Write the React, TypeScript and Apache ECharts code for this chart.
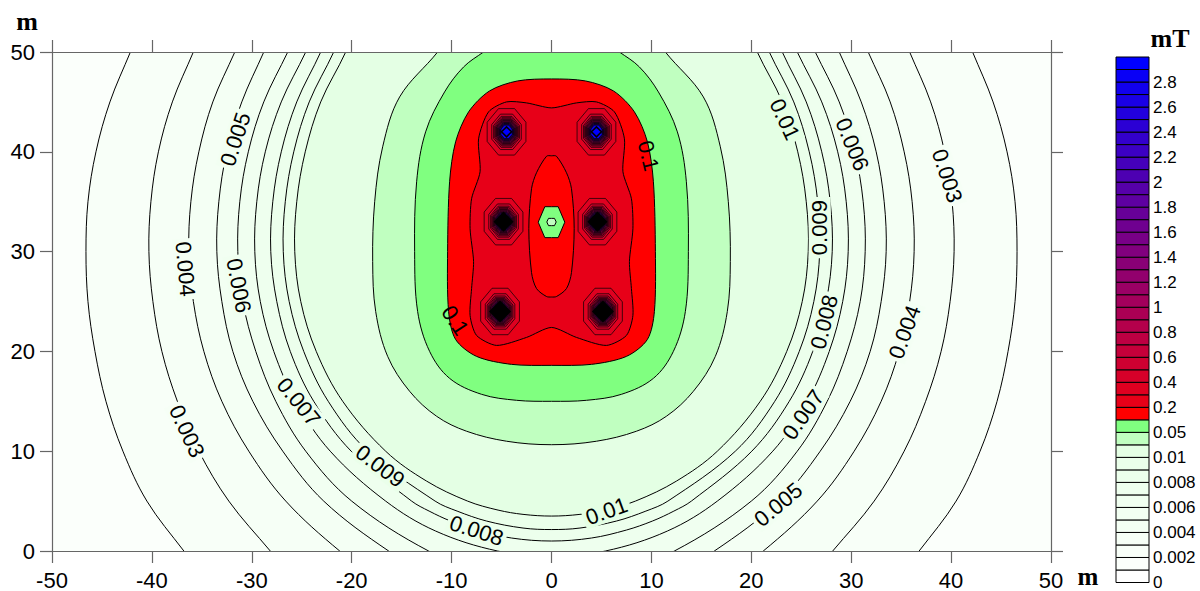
import React, { useEffect, useRef } from 'react';
import * as echarts from 'echarts';

// Contour levels (colour scale), mT
const LEVELS = [0, 0.001, 0.002, 0.003, 0.004, 0.005, 0.006, 0.007, 0.008, 0.009, 0.01, 0.02, 0.05, 0.1,
  0.2, 0.3, 0.4, 0.5, 0.6, 0.7, 0.8, 0.9, 1, 1.1, 1.2, 1.3, 1.4, 1.5, 1.6, 1.7, 1.8, 1.9, 2,
  2.1, 2.2, 2.3, 2.4, 2.5, 2.6, 2.7, 2.8, 2.9, 3];

// Right halves of the contour lines [x (m), y (m)]; the field is symmetric about x = 0
const C_0002 = [[40.9, 53], [42.15, 50], [44.2, 45], [45.6, 40], [46.4, 35], [46.6, 30], [46.4, 25], [45.7, 20], [44.6, 15], [42.9, 10], [40.5, 5], [36.8, 0], [34.4, -3]];
const C_0003 = [[34.6, 53], [35.85, 50], [37.95, 45], [39.35, 40], [40.1, 35], [40.3, 30], [39.9, 25], [39.0, 20], [37.45, 15], [35.3, 10], [32.3, 5], [28.15, 0], [25.6, -3]];
const C_0004 = [[30.4, 53], [31.7, 50], [33.9, 45], [35.3, 40], [36.1, 35], [36.3, 30], [35.85, 25], [34.8, 20], [33.0, 15], [30.3, 10], [26.6, 5], [21.2, 0], [17.0, -3]];
const C_0005 = [[27.5, 53], [28.8, 50], [31.0, 45], [32.5, 40], [33.3, 35], [33.5, 30], [33.0, 25], [31.9, 20], [29.9, 15], [26.9, 10], [22.8, 5], [16.3, 0], [11.0, -3]];
const C_0006 = [[25.0, 53], [26.4, 50], [28.8, 45], [30.35, 40], [31.2, 35], [31.4, 30], [30.9, 25], [29.6, 20], [27.6, 15], [24.6, 10], [20.0, 5], [12.3, 0], [6.0, -2.4], [0, -3.2]];
const C_0007 = [[23.3, 53], [24.6, 50], [27.05, 45], [28.65, 40], [29.5, 35], [29.7, 30], [29.15, 25], [27.8, 20], [25.6, 15], [22.15, 10], [16.6, 5], [11.6, 2], [5.4, 0], [0, -0.5]];
const C_0008 = [[21.9, 53], [23.1, 50], [25.5, 45], [27.05, 40], [27.9, 35], [28.1, 30], [27.5, 25], [26.15, 20], [23.8, 15], [20.05, 10], [14.0, 5], [12.25, 4], [10.1, 3], [7.5, 2.1], [4.0, 1.3], [0, 1.0]];
const C_0009 = [[20.6, 53], [21.8, 50], [24.25, 45], [25.8, 40], [26.65, 35], [26.85, 30], [26.26, 25], [24.8, 20], [22.35, 15], [18.4, 10], [11.65, 5], [9.45, 4], [6.5, 3], [2.85, 2.3], [0, 2.15]];
const C_0010 = [[19.5, 53], [20.6, 50], [23.1, 45], [24.65, 40], [25.5, 35], [25.7, 30], [25.1, 25], [23.55, 20], [20.9, 15], [16.6, 10], [12.5, 7], [8.4, 5], [5.35, 4.1], [2.85, 3.67], [0, 3.5]];
const C_002 = [[9.3, 53], [11.4, 50], [15.2, 45.5], [16.9, 40.5], [17.7, 35], [17.9, 29], [17.6, 24], [16.4, 19.5], [14.2, 16], [11.5, 13.5], [8.5, 12], [4.5, 11], [0, 10.65]];
const C_005 = [[3.5, 52.3], [6.8, 50], [8.8, 48.5], [10.7, 46], [12.6, 42], [13.5, 37], [13.7, 30], [13.4, 24], [12.2, 20], [10.2, 17.3], [7, 15.7], [3.5, 15.1], [0, 15]];
const C_01 = [[0, 47.3], [3.4, 47.1], [6.2, 46.1], [8.3, 44], [9.6, 41], [10.2, 37], [10.4, 30], [10.3, 24], [9.6, 21.2], [7.5, 19.5], [4, 18.7], [0, 18.6]];
const C_02 = [[0, 44.4], [2.5, 44.9], [4.5, 45], [6.3, 44], [7.3, 41.3], [7.15, 38], [8.0, 35.3], [8.15, 32.3], [7.8, 29], [8.0, 26.3], [8.15, 23.6], [7.5, 21.6], [5.5, 20.6], [2.5, 21.4], [0, 22.4]];
const LENS = [[0, 39.6], [0.5, 39.55], [1.5, 37.9], [2.0, 36.3], [2.27, 32.3], [2.0, 27.9], [1.5, 26.3], [0.5, 25.5], [0, 25.45]];
const HEX = [[0, 34.5], [0.67, 34.5], [1.33, 32.95], [0.67, 31.4], [0, 31.4]];
const HEX_SMALL = [[0, 33.33], [0.3, 33.33], [0.47, 32.97], [0.3, 32.6], [0, 32.6]];

const CONTOURS = [C_0002, C_0003, C_0004, C_0005, C_0006, C_0007, C_0008, C_0009, C_0010, C_002, C_005, C_01, C_02, LENS, HEX, HEX_SMALL];
const CONTOUR_LEVELS = [0.002, 0.003, 0.004, 0.005, 0.006, 0.007, 0.008, 0.009, 0.01, 0.02, 0.05, 0.1, 0.2, 0.1, 0.05, 0.02];
const CONTOUR_SMOOTH = [0.35, 0.35, 0.35, 0.35, 0.35, 0.35, 0.35, 0.35, 0.35, 0.35, 0.35, 0.3, 0.25, 0.3, 0, 0];

// Six magnet sources and their nested rings
const SRC_X = [-4.5, 4.5, -4.8, 4.6, -5.15, 5.15];
const SRC_Y = [42, 42, 33, 33, 24, 24];
const SRC_CORE = ['#0000ff', '#0000ff', '#000000', '#000000', '#000000', '#000000'];
const SRC_CORE_R = [0.5, 0.5, 0.9, 0.9, 1.0, 1.0];
const RING_LEVELS = [0.3, 0.4, 0.5, 0.6, 0.7, 0.8, 0.9, 1, 1.2, 1.4, 1.6, 1.8, 2, 2.4, 2.8];
const RING_R = [2.1, 1.6, 1.4, 1.28, 1.18, 1.1, 1.04, 0.98, 0.9, 0.84, 0.79, 0.75, 0.71, 0.65, 0.6];
const RING_STRETCH = 1.2;

// Contour labels
const LABEL_TEXT = ['0.005', '0.004', '0.006', '0.003', '0.007', '0.009', '0.008', '0.01', '0.1', '0.1', '0.01', '0.006', '0.003', '0.009', '0.008', '0.004', '0.007', '0.005'];
const LABEL_X = [-31.65, -36.65, -31.3, -36.5, -25.3, -17.15, -7.5, 5.5, 9.7, -9.65, 23.35, 30.1, 39.6, 26.85, 27.3, 35.35, 25.2, 22.7];
const LABEL_Y = [41.25, 28.25, 26.6, 12.0, 14.95, 8.5, 2.05, 4.0, 39.6, 23.1, 43.25, 40.75, 37.6, 32.4, 22.95, 21.95, 13.65, 4.65];
const LABEL_ROT = [72, -85, -79, -65, -51, -37, -18, 20, -76, -57, -65, -68, -72, 90, 76, 70, 55, 40];

const GREENS = ['#ffffff', '#fbfffb', '#f8fff8', '#f6fff6', '#f4fff4', '#f2fff2', '#f0fff0', '#eeffee', '#ecffec', '#eaffea', '#e4ffe4', '#c0ffc0', '#80ff80'];
function bandColor(i: number): string {
  if (i < GREENS.length) return GREENS[i];
  if (i === 13) return '#ff0000';
  const t = (i - 13) / 28;
  return `rgb(${Math.round(240 * (1 - t))},0,${Math.round(15 + 240 * t)})`;
}
function levelColor(v: number): string {
  return bandColor(LEVELS.indexOf(v));
}

function fullLoop(half: number[][]): number[][] {
  let left = half.slice().reverse().map(([x, y]) => [-x, y]);
  if (half[half.length - 1][0] === 0) left = left.slice(1);
  if (half[0][0] === 0) left = left.slice(0, -1);
  return half.concat(left);
}

const OCT = [22.5, 67.5, 112.5, 157.5, 202.5, 247.5, 292.5, 337.5].map((d) => (d * Math.PI) / 180);
const DIA = [0, 90, 180, 270].map((d) => (d * Math.PI) / 180);

const AXIS_FONT = 'Arial, "Liberation Sans", sans-serif';
const SERIF = '"Times New Roman", "Liberation Serif", serif';

function buildOption(): any {
  const ringData: number[][] = [];
  SRC_X.forEach((_, s) => {
    for (let k = 0; k <= RING_R.length; k++) ringData.push([SRC_X[s], SRC_Y[s], s, k]);
  });
  const axisLine = { show: true, onZero: false, lineStyle: { color: '#666', width: 1.2 } };
  const tick = { show: true, inside: false, length: 12, lineStyle: { color: '#666', width: 1.2 } };
  return {
    animation: false,
    backgroundColor: '#ffffff',
    grid: [
      { left: 52, top: 52, right: 149, bottom: 38, show: true, backgroundColor: GREENS[1], borderWidth: 0 },
      { left: 1116, top: 57, width: 33, height: 530, show: false },
    ],
    xAxis: [
      { gridIndex: 0, type: 'value', min: -50, max: 50, interval: 10, position: 'bottom', z: 10,
        axisLine, axisTick: tick, splitLine: { show: false },
        axisLabel: { fontSize: 22, color: '#000', fontFamily: AXIS_FONT, margin: 18 } },
      { gridIndex: 0, type: 'value', min: -50, max: 50, interval: 10, position: 'top', z: 10,
        axisLine, axisTick: tick, splitLine: { show: false }, axisLabel: { show: false } },
      { gridIndex: 1, type: 'value', min: 0, max: 1, show: false },
    ],
    yAxis: [
      { gridIndex: 0, type: 'value', min: 0, max: 50, interval: 10, position: 'left', z: 10,
        axisLine, axisTick: tick, splitLine: { show: false },
        axisLabel: { fontSize: 22, color: '#000', fontFamily: AXIS_FONT, margin: 17 } },
      { gridIndex: 0, type: 'value', min: 0, max: 50, interval: 10, position: 'right', z: 10,
        axisLine, axisTick: tick, splitLine: { show: false }, axisLabel: { show: false } },
      { gridIndex: 1, type: 'value', min: 0, max: 42, interval: 2, position: 'right',
        axisLine: { show: false }, axisTick: { show: false }, splitLine: { show: false },
        axisLabel: { fontSize: 17, color: '#000', fontFamily: AXIS_FONT, margin: 4,
          formatter: (v: number) => (v >= 42 ? '' : String(LEVELS[Math.round(v)])) } },
    ],
    series: [
      {
        type: 'custom', name: 'contours', xAxisIndex: 0, yAxisIndex: 0, clip: true, z: 2,
        data: CONTOURS.map((_, i) => [0, 25, i]),
        renderItem: (params: any, api: any) => {
          const i = params.dataIndex;
          const pts = fullLoop(CONTOURS[i]).map((p) => api.coord(p));
          return {
            type: 'polygon',
            shape: { points: pts, smooth: CONTOUR_SMOOTH[i] },
            style: { fill: levelColor(CONTOUR_LEVELS[i]), stroke: '#000', lineWidth: 1 },
          };
        },
      },
      {
        type: 'custom', name: 'sources', xAxisIndex: 0, yAxisIndex: 0, clip: true, z: 3,
        data: ringData,
        renderItem: (params: any, api: any) => {
          const s = api.value(2);
          const k = api.value(3);
          const c = api.coord([api.value(0), api.value(1)]);
          if (k < RING_R.length) {
            const sz = api.size([RING_R[k], RING_R[k] * RING_STRETCH]);
            return {
              type: 'polygon',
              shape: { points: OCT.map((a) => [c[0] + sz[0] * Math.cos(a), c[1] - sz[1] * Math.sin(a)]) },
              style: { fill: levelColor(RING_LEVELS[k]), stroke: '#000', lineWidth: 0.7 },
            };
          }
          const sz = api.size([SRC_CORE_R[s], SRC_CORE_R[s]]);
          return {
            type: 'polygon',
            shape: { points: DIA.map((a) => [c[0] + sz[0] * Math.cos(a), c[1] - sz[1] * Math.sin(a)]) },
            style: { fill: SRC_CORE[s], stroke: '#000', lineWidth: 1.5 },
          };
        },
      },
      {
        type: 'custom', name: 'labels', xAxisIndex: 0, yAxisIndex: 0, z: 4,
        data: LABEL_TEXT.map((_, i) => [LABEL_X[i], LABEL_Y[i], i]),
        renderItem: (params: any, api: any) => {
          const i = params.dataIndex;
          const c = api.coord([LABEL_X[i], LABEL_Y[i]]);
          const lv = parseFloat(LABEL_TEXT[i]);
          const bg = lv >= 0.1 ? 'transparent' : levelColor(lv);
          return {
            type: 'text',
            x: c[0], y: c[1],
            rotation: (LABEL_ROT[i] * Math.PI) / 180,
            style: {
              text: LABEL_TEXT[i], fill: '#000', font: `22px ${AXIS_FONT}`,
              align: 'center', verticalAlign: 'middle',
              backgroundColor: bg, padding: [0, 3],
            },
          };
        },
      },
      {
        type: 'custom', name: 'colorbar', xAxisIndex: 2, yAxisIndex: 2, z: 2,
        data: LEVELS.slice(0, -1).map((_, i) => [0, i]),
        renderItem: (params: any, api: any) => {
          const i = params.dataIndex;
          const p0 = api.coord([0, i]);
          const p1 = api.coord([1, i + 1]);
          return {
            type: 'rect',
            shape: { x: p0[0], y: p1[1], width: p1[0] - p0[0], height: p0[1] - p1[1] },
            style: { fill: bandColor(i), stroke: '#000', lineWidth: 1 },
          };
        },
      },
    ],
    graphic: [
      { type: 'text', x: 27, y: 21, style: { text: 'm', font: `bold 26px ${SERIF}`, fill: '#000', align: 'center', verticalAlign: 'middle' } },
      { type: 'text', x: 1088, y: 576, style: { text: 'm', font: `bold 25px ${SERIF}`, fill: '#000', align: 'center', verticalAlign: 'middle' } },
      { type: 'text', x: 1170, y: 38, style: { text: 'mT', font: `bold 26px ${SERIF}`, fill: '#000', align: 'center', verticalAlign: 'middle' } },
    ],
  };
}

export default function App() {
  const ref = useRef<HTMLDivElement>(null);
  useEffect(() => {
    document.body.style.margin = '0';
    const chart = echarts.init(ref.current as HTMLDivElement, null, { renderer: 'svg' });
    chart.setOption(buildOption());
    return () => chart.dispose();
  }, []);
  return <div ref={ref} style={{ width: 1200, height: 591 }} />;
}
